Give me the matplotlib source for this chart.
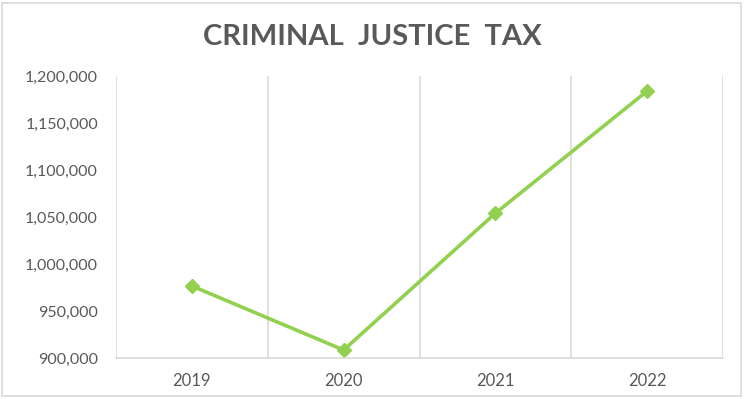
import matplotlib.pyplot as plt
from matplotlib.ticker import FuncFormatter, MultipleLocator
from matplotlib.patches import Rectangle

years = ['2019', '2020', '2021', '2022']
tax = [976600, 908500, 1054000, 1184000]

plt.rcParams['font.family'] = ['Lato', 'DejaVu Sans']

fig = plt.figure(figsize=(7.44, 3.99), dpi=100)
ax = fig.add_axes([116 / 744, 1 - 358 / 399, (723 - 116) / 744, (358 - 76) / 399])

x = list(range(len(years)))
ax.plot(x, tax, color='#92D050', linewidth=2.6, marker='D', markersize=7,
        markerfacecolor='#92D050', markeredgecolor='#92D050')

ax.set_xlim(-0.5, len(years) - 0.5)
ax.set_ylim(900000, 1200000)
ax.yaxis.set_major_locator(MultipleLocator(50000))
ax.yaxis.set_major_formatter(FuncFormatter(lambda v, p: f'{int(v):,}'))
ax.set_xticks(x)
ax.set_xticklabels(years)

# vertical gridlines between categories
for b in range(len(years) + 1):
    ax.axvline(b - 0.5, color='#D9D9D9', linewidth=1.2, zorder=0)

for s in ['top', 'right', 'left']:
    ax.spines[s].set_visible(False)
ax.spines['bottom'].set_color('#D9D9D9')
ax.spines['bottom'].set_linewidth(1.2)
ax.tick_params(axis='both', length=0, colors='#595959')
ax.tick_params(axis='y', pad=13, labelsize=11.5)
ax.tick_params(axis='x', pad=11, labelsize=12)

fig.text(0.5, 1 - 37 / 399, 'CRIMINAL  JUSTICE  TAX', ha='center', va='center',
         fontsize=21, fontweight='bold', color='#595959')

fig.patches.append(Rectangle((2 / 744, 3 / 399), 739 / 744, 393 / 399,
                             transform=fig.transFigure, fill=False,
                             edgecolor='#D9D9D9', linewidth=1.2))

fig.savefig('out.png', dpi=100)
